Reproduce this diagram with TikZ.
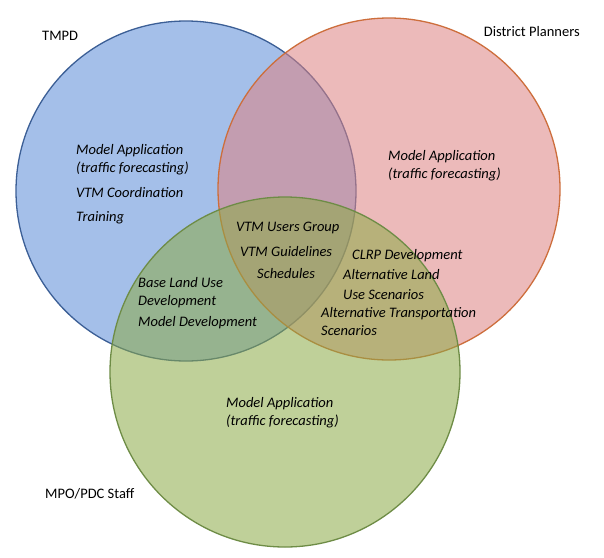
\documentclass[tikz,border=0pt]{standalone}
\usepackage{fontspec}
\setmainfont{Carlito}
\begin{document}
\begin{tikzpicture}[x=1pt,y=-1pt,
  circ/.style={line width=1.3pt, fill opacity=0.55},
  lab/.style={font=\itshape\fontsize{14.5}{18}\selectfont, align=left, anchor=north west, inner sep=0pt},
  ttl/.style={font=\fontsize{14.5}{17}\selectfont, inner sep=0pt}]
\definecolor{bfill}{RGB}{90,140,215}
\definecolor{bline}{RGB}{60,95,150}
\definecolor{rfill}{RGB}{222,130,130}
\definecolor{rline}{RGB}{205,110,60}
\definecolor{gfill}{RGB}{140,170,70}
\definecolor{gline}{RGB}{110,140,70}
\useasboundingbox (0,0) rectangle (604,557);
\fill[white] (0,0) rectangle (604,557);
\node[circle, minimum size=340pt, draw=bline, fill=bfill, circ] (blue) at (186,191) {};
\node[circle, minimum size=342pt, draw=rline, fill=rfill, circ] (red) at (389,189) {};
\node[circle, minimum size=350pt, draw=gline, fill=gfill, circ] (green) at (285,372) {};
\node[ttl, anchor=west] (t1) at (42,36) {TMPD};
\node[ttl, anchor=east] (t2) at (580,32) {District Planners};
\node[ttl, anchor=west] (t3) at (45,494) {MPO/PDC Staff};
\node[lab] (a) at (76,144) {Model Application\\(traffic forecasting)};
\node[lab] (b) at (76,187) {VTM Coordination};
\node[lab] (c) at (76,211) {Training};
\node[lab] (d) at (388,150) {Model Application\\(traffic forecasting)};
\node[lab] (e) at (236,222) {VTM Users Group};
\node[lab] (f) at (240,246) {VTM Guidelines};
\node[lab] (g) at (257,268) {Schedules};
\node[lab] (h) at (138,277) {Base Land Use\\Development};
\node[lab] (i) at (138,316) {Model Development};
\node[lab] (j) at (352,249) {CLRP Development};
\node[lab] (k) at (343,269) {Alternative Land};
\node[lab] (l) at (343,289) {Use Scenarios};
\node[lab] (m) at (321,307) {Alternative Transportation\\Scenarios};
\node[lab] (n) at (226,397) {Model Application\\(traffic forecasting)};
\end{tikzpicture}
\end{document}
